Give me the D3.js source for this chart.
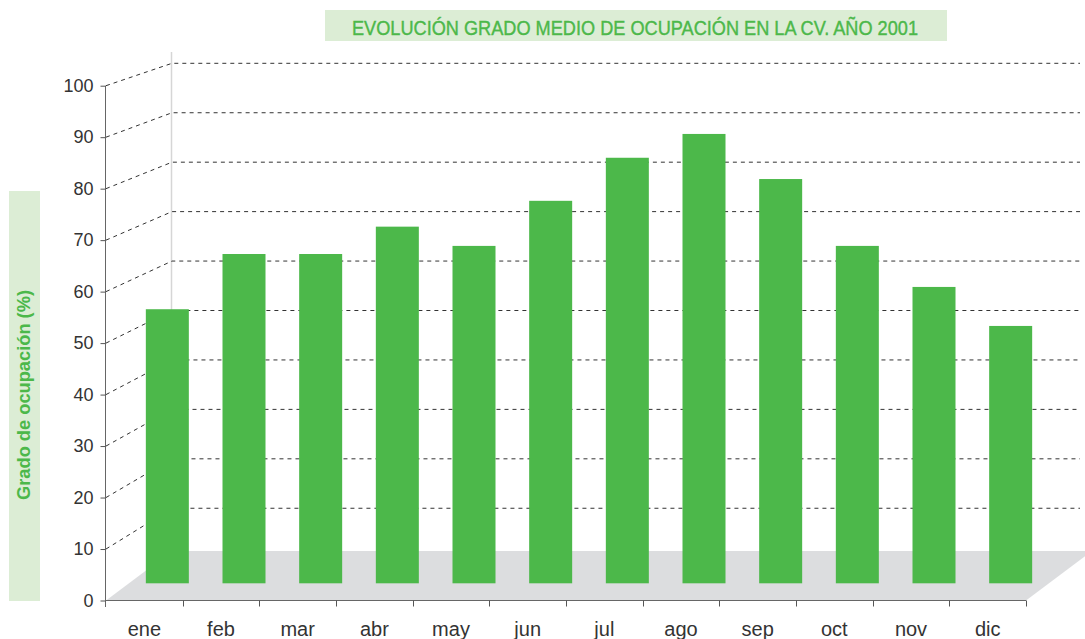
<!DOCTYPE html>
<html>
<head>
<meta charset="utf-8">
<script src="https://cdn.jsdelivr.net/npm/d3@7"></script>
<style>
  html, body { margin: 0; padding: 0; background: #fff; }
  svg { display: block; }
</style>
</head>
<body>
<svg id="chart"></svg>
<script>
// monthly data
var months = ['ene', 'feb', 'mar', 'abr', 'may', 'jun', 'jul', 'ago', 'sep', 'oct', 'nov', 'dic'];
var ocupacion = [54.1, 65.0, 65.0, 70.4, 66.6, 75.5, 84.0, 88.7, 79.8, 66.6, 58.5, 50.8];
var yTicks = [0, 10, 20, 30, 40, 50, 60, 70, 80, 90, 100];
var titulo = 'EVOLUCIÓN GRADO MEDIO DE OCUPACIÓN EN LA CV. AÑO 2001';
var yLabel = 'Grado de ocupación (%)';

var W = 1085, H = 639;
var green = '#4cb84a', paleGreen = '#dcedd5';
var fontF = '"Liberation Sans", Arial, sans-serif';

var svg = d3.select('#chart').attr('width', W).attr('height', H);

// fake 3d : front plane, back wall, bars somewhere in between
var wallDx = 66;      // back wall shifted right
var barShift = 23;    // bars shifted right from front band center
var barW = 43;

var x = d3.scaleBand().domain(months).range([106, 1026]).paddingInner(0).paddingOuter(0);
var yFront = d3.scaleLinear().domain([0, 100]).range([600.5, 85.7]);
var yBack = d3.scaleLinear().domain([0, 100]).range([557.7, 63.3]);
var yBar = d3.scaleLinear().domain([0, 100]).range([583.3, 76.7]);

// floor
svg.append('polygon')
  .attr('points', [[106, 600.5], [106 + wallDx, 551], [1026 + wallDx, 551], [1026, 600.5]].join(' '))
  .attr('fill', '#dcdddf');

// back wall left edge
svg.append('line')
  .attr('x1', 106 + wallDx - 0.5).attr('x2', 106 + wallDx - 0.5)
  .attr('y1', 52).attr('y2', 551)
  .attr('stroke', '#d6d6d6').attr('stroke-width', 1.5);

// grid lines (diagonal on the side + flat on the back wall)
var grid = svg.append('g').attr('fill', 'none')
  .attr('stroke', '#333').attr('stroke-width', 1).attr('stroke-dasharray', '4,4');
yTicks.filter(function (d) { return d > 0; }).forEach(function (d) {
  grid.append('path')
    .attr('d', 'M106,' + yFront(d) + 'L' + (106 + wallDx) + ',' + yBack(d) + 'L1080,' + yBack(d));
});

// bars
svg.selectAll('rect.bar')
  .data(ocupacion)
  .enter()
  .append('rect')
  .attr('class', 'bar')
  .attr('x', function (d, i) { return x(months[i]) + x.bandwidth() / 2 + barShift - barW / 2; })
  .attr('y', function (d) { return yBar(d); })
  .attr('width', barW)
  .attr('height', function (d) { return yBar(0) - yBar(d); })
  .attr('fill', green);

// Y axis
var yAxis = d3.axisLeft(yFront).tickValues(yTicks).tickSize(5).tickPadding(7);
var gy = svg.append('g').attr('transform', 'translate(105.5,0)').call(yAxis);
gy.select('.domain').attr('stroke', '#666').attr('d', 'M0,' + yFront(100) + 'V607');
gy.selectAll('.tick line').attr('stroke', '#555');
gy.selectAll('text').attr('font-family', fontF).attr('font-size', 18).attr('fill', '#333');

// X axis
var xAxis = d3.axisBottom(x).tickSize(0).tickPadding(21);
var gx = svg.append('g').attr('transform', 'translate(0,600.5)').call(xAxis);
gx.select('.domain').attr('stroke', '#666').attr('d', 'M105.5,0H1026');
gx.selectAll('text').attr('font-family', fontF).attr('font-size', 20).attr('fill', '#333');
// ticks sit on the band edges
gx.selectAll('line.edge')
  .data(months)
  .enter()
  .append('line')
  .attr('class', 'edge')
  .attr('x1', function (d) { return Math.round(x(d) + x.bandwidth()) + 0.5; })
  .attr('x2', function (d) { return Math.round(x(d) + x.bandwidth()) + 0.5; })
  .attr('y1', 0).attr('y2', 6)
  .attr('stroke', '#555');

// title
svg.append('rect').attr('x', 325).attr('y', 10).attr('width', 622).attr('height', 31).attr('fill', paleGreen);
svg.append('text')
  .attr('x', 352).attr('y', 35)
  .attr('textLength', 566).attr('lengthAdjust', 'spacingAndGlyphs')
  .attr('font-family', fontF).attr('font-size', 21)
  .attr('stroke', green).attr('stroke-width', 0.4)
  .attr('fill', green)
  .text(titulo);

// y label
svg.append('rect').attr('x', 9).attr('y', 191).attr('width', 31).attr('height', 410).attr('fill', paleGreen);
svg.append('text')
  .attr('transform', 'translate(30,395) rotate(-90)')
  .attr('text-anchor', 'middle')
  .attr('textLength', 210).attr('lengthAdjust', 'spacingAndGlyphs')
  .attr('font-family', fontF).attr('font-size', 18).attr('font-weight', 'bold')
  .attr('fill', green)
  .text(yLabel);
</script>
</body>
</html>
